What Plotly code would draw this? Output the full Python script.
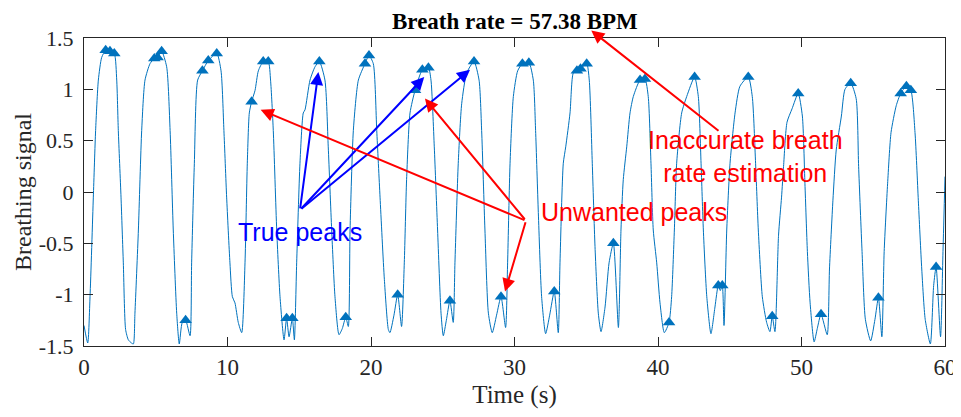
import plotly.graph_objects as go

# Breathing signal samples (time in s, amplitude)
time_s = [0.0, 0.26, 0.42, 0.65, 0.81, 1.00, 1.23, 1.51, 1.81, 2.11, 2.28, 2.39, 2.58, 2.74, 2.90, 3.09, 3.30, 3.44,
          3.55, 3.79, 4.02, 4.25, 4.60, 4.90, 5.13, 5.41, 5.76, 6.00, 6.22, 6.46, 6.64, 6.85, 7.08, 7.39, 7.50, 7.69,
          7.92, 8.25, 8.66, 9.25, 9.55, 9.75, 9.94, 10.17, 10.34, 10.52, 10.75, 10.99, 11.22, 11.38, 11.52, 11.68,
          11.92, 12.15, 12.49, 12.84, 13.00, 13.19, 13.43, 13.66, 13.94, 14.12, 14.29, 14.52, 14.66, 14.82, 15.05,
          15.28, 15.40, 15.75, 16.10, 16.40, 16.79, 17.02, 17.26, 17.49, 17.77, 18.00, 18.24, 18.42, 18.54, 18.77,
          19.12, 19.58, 19.86, 20.16, 20.40, 20.63, 20.93, 21.21, 21.32, 21.60, 21.86, 22.13, 22.32, 22.48, 22.72,
          23.07, 23.58, 24.00, 24.18, 24.41, 24.64, 24.88, 25.04, 25.25, 25.50, 25.73, 25.85, 26.08, 26.32, 26.67,
          27.18, 27.53, 27.71, 27.94, 28.18, 28.45, 28.75, 29.06, 29.38, 29.52, 29.69, 29.92, 30.22, 30.55, 31.00,
          31.31, 31.47, 31.66, 31.89, 32.17, 32.45, 32.77, 33.05, 33.17, 33.40, 33.57, 33.87, 34.10, 34.35, 34.60,
          35.03, 35.21, 35.42, 35.61, 35.84, 36.03, 36.31, 36.59, 36.89, 37.24, 37.42, 37.58, 37.82, 38.05, 38.28,
          38.75, 39.09, 39.32, 39.51, 39.67, 39.91, 40.14, 40.44, 40.77, 40.95, 41.14, 41.30, 41.65, 42.00, 42.55,
          42.81, 43.00, 43.16, 43.40, 43.69, 43.97, 44.20, 44.34, 44.48, 44.60, 44.79, 45.02, 45.37, 45.71, 46.29,
          46.57, 46.80, 46.99, 47.27, 47.57, 47.80, 47.96, 48.15, 48.40, 48.61, 48.75, 48.99, 49.34, 49.77, 50.06,
          50.24, 50.41, 50.60, 50.88, 51.10, 51.36, 51.79, 51.95, 52.19, 52.42, 52.78, 53.03, 53.43, 53.81, 53.98,
          54.22, 54.45, 54.82, 55.12, 55.36, 55.60, 55.76, 56.00, 56.24, 56.60, 56.91, 57.31, 57.62, 57.91, 58.14,
          58.38, 58.62, 58.98, 59.21, 59.38, 59.69, 59.86, 60.0]
signal = [-1.30, -1.47, -1.02, -0.05, 0.60, 1.09, 1.31, 1.38, 1.37, 1.35, 1.09, 0.60, -0.05, -0.69, -1.34, -1.44, -1.47, -1.48,
          -1.18, -0.37, 0.60, 1.09, 1.25, 1.30, 1.31, 1.37, 1.22, 0.60, -0.37, -1.18, -1.48, -1.27, -1.25, -1.40, -0.69, 0.28,
          1.09, 1.18, 1.28, 1.35, 1.18, 0.60, -0.05, -0.69, -1.02, -1.08, -1.27, -1.37, -0.69, 0.28, 0.77, 0.88,
          0.99, 1.18, 1.27, 1.27, 1.09, 0.60, -0.37, -1.02, -1.44, -1.23, -1.41, -1.23, -1.44, -0.69, 0.28,
          0.77, 0.80, 1.09, 1.22, 1.27, 1.09, 0.44, -0.37, -1.02, -1.39, -1.33, -1.22, -1.31, -0.37, 0.60,
          1.09, 1.25, 1.33, 1.25, 0.60, -0.05, -0.85, -1.34, -1.37, -1.20, -1.00, -1.31, -0.69, 0.12, 0.77,
          0.99, 1.19, 1.21, 1.09, 0.44, -0.37, -1.18, -1.40, -1.25, -1.06, -1.27, -0.69, 0.28, 0.86, 1.16,
          1.27, 1.09, 0.60, -0.37, -1.18, -1.37, -1.20, -1.02, -1.32, -0.69, 0.28, 0.93, 1.18, 1.25, 1.26,
          1.09, 0.60, -0.20, -1.02, -1.38, -1.20, -0.97, -1.37, -0.69, 0.28, 0.44, 0.77, 1.16, 1.18, 1.20,
          1.25, 1.09, 0.28, -0.53, -1.18, -1.36, -1.12, -0.69, -0.50, -1.32, -0.37, 0.12, 0.44, 0.77, 0.93,
          1.09, 1.10, 0.93, 0.28, -0.37, -0.69, -1.08, -1.37, -1.27, -1.02, -0.37, 0.28, 0.77, 0.93, 1.12,
          0.93, 0.28, -0.37, -1.02, -1.38, -1.12, -0.91, -0.96, -0.91, -1.30, -0.37, 0.28, 0.77, 1.03, 1.12,
          0.93, 0.28, -0.37, -1.02, -1.27, -1.36, -1.21, -1.36, -0.42, -0.05, 0.25, 0.68, 0.81, 0.96, 0.74,
          0.08, -0.58, -1.08, -1.46, -1.33, -1.19, -1.39, -0.75, -0.08, 0.41, 0.74, 1.00, 1.06, 0.91, 0.25,
          -0.58, -1.24, -1.45, -1.24, -1.03, -1.41, -0.58, 0.08, 0.58, 0.84, 0.96, 1.03, 0.99, 0.58, -0.08,
          -0.75, -1.24, -1.48, -0.91, -0.73, -1.41, -0.58, 0.15]

# Detected peaks (triangle markers)
peak_time = [1.51, 1.81, 2.11, 4.90, 5.13, 5.41, 7.08, 8.25, 8.66, 9.25, 11.68, 12.49, 12.84, 14.12, 14.52, 16.40,
             18.24, 19.58, 19.86, 21.86, 23.07, 23.58, 24.00, 25.50, 27.18, 29.06, 30.55, 31.00, 32.77, 34.35,
             34.60, 35.03, 36.89, 38.75, 39.09, 40.77, 42.55, 44.20, 44.48, 46.29, 47.96, 49.77, 51.36, 53.43,
             55.36, 56.91, 57.31, 57.62, 59.38]
peak_value = [1.38, 1.37, 1.35, 1.30, 1.31, 1.37, -1.25, 1.18, 1.28, 1.35, 0.88, 1.27, 1.27, -1.23, -1.23, 1.27,
              -1.22, 1.25, 1.33, -1.00, 0.99, 1.19, 1.21, -1.06, 1.27, -1.02, 1.25, 1.26, -0.97, 1.18,
              1.20, 1.25, -0.50, 1.09, 1.10, -1.27, 1.12, -0.91, -0.91, 1.12, -1.21, 0.96, -1.19, 1.06,
              -1.03, 0.96, 1.03, 0.99, -0.73]

x_ticks = [0, 10, 20, 30, 40, 50, 60]
x_tick_labels = ["0", "10", "20", "30", "40", "50", "60"]
y_ticks = [-1.5, -1, -0.5, 0, 0.5, 1, 1.5]
y_tick_labels = ["-1.5", "-1", "-0.5", "0", "0.5", "1", "1.5"]

title_text = "Breath rate = 57.38 BPM"
true_label = "True peaks"
true_tail = (15.05, -0.175)
true_tips = [(16.33, 1.168), (23.71, 1.12), (26.9, 1.19)]
unwanted_label = "Unwanted peaks"
unwanted_tail = (30.8, -0.28)
unwanted_tips = [(12.31, 0.80), (23.76, 0.91), (29.34, -0.97)]
inacc_label = "Inaccurate breath<br>rate estimation"
inacc_tail = (44.32, 0.585)
inacc_tip = (35.35, 1.573)

BLUE = "#0072BD"
AXC = "#262626"
SERIF = "Liberation Serif, Times New Roman, serif"
SANS = "Liberation Sans, Arial, sans-serif"

fig = go.Figure()
fig.add_trace(go.Scatter(x=time_s, y=signal, mode="lines",
                         line=dict(color=BLUE, width=1, shape="spline", smoothing=0.6),
                         showlegend=False, hoverinfo="skip"))
fig.add_trace(go.Scatter(x=peak_time, y=peak_value, mode="markers",
                         marker=dict(symbol="triangle-up", size=11, color=BLUE),
                         showlegend=False))

annotations = []
def arrow(tail, tip, color):
    return dict(x=tip[0], y=tip[1], ax=tail[0], ay=tail[1], xref="x", yref="y",
                axref="x", ayref="y", text="", showarrow=True, arrowhead=2,
                arrowsize=1.3, arrowwidth=2, arrowcolor=color, standoff=0, startstandoff=0)

for tip in true_tips:
    annotations.append(arrow(true_tail, tip, "#0000FF"))
for tip in unwanted_tips:
    annotations.append(arrow(unwanted_tail, tip, "#FF0000"))
annotations.append(arrow(inacc_tail, inacc_tip, "#FF0000"))

annotations.append(dict(x=15.05, y=-0.39, xref="x", yref="y", text=true_label, showarrow=False,
                        font=dict(family=SANS, size=25, color="#0000FF")))
annotations.append(dict(x=31.7, y=-0.19, xref="x", yref="y", text=unwanted_label, showarrow=False,
                        xanchor="left", font=dict(family=SANS, size=25, color="#FF0000")))
annotations.append(dict(x=46.1, y=0.35, xref="x", yref="y", text=inacc_label, showarrow=False,
                        font=dict(family=SANS, size=25, color="#FF0000")))
annotations.append(dict(x=30.0, y=1.0, xref="x", yref="paper", yshift=30, text="<b>" + title_text + "</b>",
                        showarrow=False, yanchor="top", borderpad=0,
                        font=dict(family=SERIF, size=23, color="#000000")))

fig.update_layout(
    width=953, height=401,
    margin=dict(l=76, r=16, t=30, b=63),
    plot_bgcolor="white", paper_bgcolor="white",
    annotations=annotations,
    xaxis=dict(range=[0, 60], tickvals=x_ticks, ticktext=x_tick_labels, automargin=False,
               showline=True, linecolor=AXC, linewidth=1, mirror="ticks",
               ticks="inside", ticklen=9, tickcolor=AXC, showgrid=False, zeroline=False,
               ticklabeloverflow="allow",
               tickfont=dict(family=SERIF, size=23, color=AXC),
               title=dict(text="Time (s)", font=dict(family=SERIF, size=25, color=AXC), standoff=6)),
    yaxis=dict(range=[-1.5, 1.5], tickvals=y_ticks, ticktext=y_tick_labels, automargin=False,
               showline=True, linecolor=AXC, linewidth=1, mirror="ticks",
               ticks="inside", ticklen=9, tickcolor=AXC, showgrid=False, zeroline=False,
               ticklabelstandoff=5,
               tickfont=dict(family=SERIF, size=22, color=AXC),
               title=dict(text="Breathing signal", font=dict(family=SERIF, size=24, color=AXC), standoff=0)),
)

fig.write_html("out.html")
